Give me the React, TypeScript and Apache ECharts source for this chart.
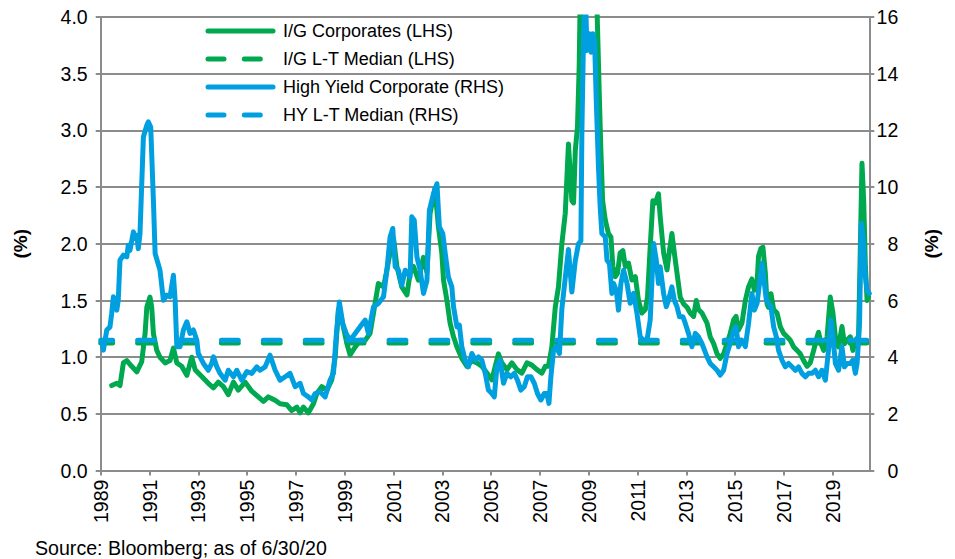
import React, { useEffect, useRef } from "react";
import * as echarts from "echarts";

// Tick labels
const xTickYears = [1989, 1991, 1993, 1995, 1997, 1999, 2001, 2003, 2005, 2007, 2009, 2011, 2013, 2015, 2017, 2019];

// Series names (legend order)
const IG_NAME = "I/G Corporates (LHS)";
const IG_MED_NAME = "I/G L-T Median (LHS)";
const HY_NAME = "High Yield Corporate (RHS)";
const HY_MED_NAME = "HY L-T Median (RHS)";
const legendNames = [IG_NAME, IG_MED_NAME, HY_NAME, HY_MED_NAME];

// Long-term medians
const igMedian = 1.125;
const hyMedian = 4.6;
const medianSpan = [1989, 2020.5];

// I/G corporate spread (%), [year, value]
const igPoints: [number, number][] = [
  [1989.45, 0.75], [1989.66, 0.77], [1989.79, 0.75], [1989.93, 0.95], [1990.07, 0.97],
  [1990.27, 0.92], [1990.48, 0.87], [1990.68, 0.96], [1990.82, 1.21], [1990.89, 1.44],
  [1991.02, 1.53], [1991.09, 1.44], [1991.16, 1.21], [1991.30, 1.06], [1991.43, 1.0],
  [1991.64, 0.95], [1991.84, 0.97], [1991.98, 1.08], [1992.12, 0.95], [1992.32, 0.92],
  [1992.53, 0.84], [1992.73, 1.0], [1992.87, 0.89], [1993.14, 0.83], [1993.41, 0.77],
  [1993.62, 0.73], [1993.82, 0.78], [1994.03, 0.74], [1994.23, 0.67], [1994.44, 0.78],
  [1994.64, 0.71], [1994.92, 0.78], [1995.19, 0.70], [1995.46, 0.65], [1995.67, 0.61],
  [1995.87, 0.65], [1996.15, 0.62], [1996.35, 0.59], [1996.63, 0.58], [1996.83, 0.53],
  [1997.04, 0.56], [1997.17, 0.51], [1997.31, 0.56], [1997.51, 0.51], [1997.72, 0.59],
  [1997.86, 0.68], [1998.06, 0.74], [1998.27, 0.71], [1998.47, 0.80], [1998.61, 1.0],
  [1998.74, 1.42], [1998.88, 1.33], [1999.09, 1.12], [1999.22, 1.02], [1999.43, 1.09],
  [1999.63, 1.15], [1999.84, 1.15], [2000.04, 1.21], [2000.18, 1.39], [2000.38, 1.65],
  [2000.59, 1.62], [2000.73, 1.77], [2000.86, 1.92], [2001.0, 2.05], [2001.14, 1.80],
  [2001.34, 1.62], [2001.55, 1.55], [2001.68, 1.74], [2001.82, 1.80], [2002.02, 1.68],
  [2002.23, 1.88], [2002.37, 1.75], [2002.5, 2.27], [2002.7, 2.49], [2002.84, 2.15],
  [2002.98, 1.92], [2003.05, 1.68], [2003.19, 1.50], [2003.32, 1.30], [2003.46, 1.18],
  [2003.6, 1.09], [2003.8, 0.99], [2004.01, 0.92], [2004.21, 0.97], [2004.42, 0.95],
  [2004.62, 0.92], [2004.83, 0.86], [2005.03, 0.80], [2005.17, 0.92], [2005.3, 1.03],
  [2005.44, 0.95], [2005.65, 0.89], [2005.85, 0.95], [2006.06, 0.89], [2006.26, 0.86],
  [2006.47, 0.95], [2006.67, 0.93], [2006.88, 0.89], [2007.08, 0.86], [2007.22, 0.92],
  [2007.35, 0.92], [2007.49, 1.09], [2007.63, 1.44], [2007.76, 1.62], [2007.9, 2.0],
  [2008.04, 2.27], [2008.17, 2.88], [2008.31, 2.38], [2008.38, 2.36], [2008.45, 2.82],
  [2008.54, 3.03], [2008.61, 3.56], [2008.68, 4.6], [2008.8, 5.6], [2008.95, 6.0],
  [2009.1, 5.3], [2009.3, 4.4], [2009.44, 3.27], [2009.5, 2.82], [2009.57, 2.38],
  [2009.68, 2.21], [2009.81, 2.09], [2009.91, 2.06], [2009.99, 1.80], [2010.09, 1.71],
  [2010.18, 1.74], [2010.29, 1.92], [2010.4, 1.94], [2010.5, 1.80], [2010.63, 1.83],
  [2010.77, 1.68], [2010.91, 1.71], [2011.04, 1.50], [2011.18, 1.39], [2011.32, 1.42],
  [2011.41, 1.53], [2011.52, 1.97], [2011.63, 2.38], [2011.73, 2.36], [2011.86, 2.44],
  [2011.93, 2.24], [2012.07, 1.92], [2012.21, 1.77], [2012.31, 1.94], [2012.41, 2.09],
  [2012.51, 1.92], [2012.62, 1.74], [2012.75, 1.53], [2012.89, 1.47], [2013.03, 1.44],
  [2013.16, 1.39], [2013.3, 1.36], [2013.41, 1.50], [2013.5, 1.42], [2013.64, 1.39],
  [2013.85, 1.30], [2013.98, 1.18], [2014.12, 1.12], [2014.26, 1.03], [2014.39, 0.99],
  [2014.53, 1.03], [2014.67, 1.12], [2014.8, 1.21], [2014.94, 1.33], [2015.04, 1.36],
  [2015.14, 1.24], [2015.28, 1.30], [2015.42, 1.50], [2015.55, 1.62], [2015.69, 1.69],
  [2015.79, 1.59], [2015.9, 1.65], [2015.96, 1.89], [2016.06, 1.96], [2016.14, 1.97],
  [2016.24, 1.74], [2016.31, 1.47], [2016.37, 1.44], [2016.47, 1.56], [2016.58, 1.42],
  [2016.72, 1.39], [2016.85, 1.27], [2016.99, 1.21], [2017.13, 1.18], [2017.26, 1.15],
  [2017.4, 1.09], [2017.54, 1.06], [2017.67, 1.03], [2017.81, 0.97], [2017.95, 0.92],
  [2018.08, 0.95], [2018.22, 1.06], [2018.36, 1.18], [2018.42, 1.22], [2018.52, 1.12],
  [2018.63, 1.06], [2018.77, 1.18], [2018.9, 1.53], [2019.01, 1.39], [2019.11, 1.18],
  [2019.24, 1.09], [2019.38, 1.27], [2019.48, 1.12], [2019.59, 1.15], [2019.72, 1.18],
  [2019.83, 1.06], [2019.93, 1.15], [2020.06, 1.18], [2020.13, 1.94], [2020.2, 2.71],
  [2020.27, 2.38], [2020.34, 1.80], [2020.41, 1.50], [2020.47, 1.53],
];

// High yield corporate spread (%), [year, value]
const hyPoints: [number, number][] = [
  [1989.04, 4.6], [1989.11, 4.25], [1989.25, 4.96], [1989.38, 5.07], [1989.45, 5.54],
  [1989.52, 6.13], [1989.66, 5.66], [1989.72, 6.01], [1989.79, 7.42], [1989.93, 7.6],
  [1990.07, 7.54], [1990.13, 7.95], [1990.2, 7.77], [1990.34, 8.42], [1990.41, 8.19],
  [1990.48, 8.3], [1990.54, 7.83], [1990.61, 8.36], [1990.75, 11.77], [1990.89, 12.18],
  [1990.95, 12.3], [1991.05, 12.12], [1991.16, 9.54], [1991.23, 7.66], [1991.43, 7.07],
  [1991.57, 6.01], [1991.71, 6.19], [1991.84, 6.13], [1991.98, 6.89], [1992.05, 6.01],
  [1992.12, 4.37], [1992.25, 4.37], [1992.39, 4.96], [1992.53, 5.25], [1992.66, 4.84],
  [1992.8, 4.96], [1992.94, 4.6], [1993.0, 4.13], [1993.21, 3.78], [1993.41, 3.54],
  [1993.55, 3.78], [1993.62, 4.01], [1993.76, 3.66], [1993.89, 3.43], [1994.1, 3.19],
  [1994.23, 3.54], [1994.44, 3.31], [1994.58, 3.54], [1994.78, 3.19], [1994.99, 3.49],
  [1995.19, 3.43], [1995.4, 3.66], [1995.53, 3.54], [1995.74, 3.66], [1995.94, 4.07],
  [1996.15, 3.54], [1996.35, 3.19], [1996.56, 3.31], [1996.76, 3.43], [1996.97, 2.96],
  [1997.17, 3.08], [1997.31, 2.72], [1997.51, 2.6], [1997.65, 2.49], [1997.79, 2.72],
  [1997.99, 2.78], [1998.2, 2.6], [1998.4, 3.19], [1998.54, 3.43], [1998.65, 4.72],
  [1998.78, 5.95], [1998.92, 5.19], [1999.06, 4.84], [1999.22, 4.6], [1999.43, 4.84],
  [1999.63, 5.07], [1999.84, 5.31], [1999.97, 4.84], [2000.18, 5.78], [2000.38, 5.9],
  [2000.59, 6.13], [2000.73, 7.07], [2000.86, 8.24], [2000.97, 8.54], [2001.07, 7.19],
  [2001.2, 7.07], [2001.34, 6.54], [2001.48, 7.07], [2001.68, 6.83], [2001.75, 8.95],
  [2001.85, 8.83], [2001.96, 7.54], [2002.09, 7.07], [2002.23, 6.25], [2002.37, 6.7],
  [2002.47, 9.18], [2002.64, 9.77], [2002.78, 10.12], [2002.88, 8.6], [2003.02, 8.36],
  [2003.12, 7.66], [2003.25, 6.83], [2003.39, 6.48], [2003.46, 5.78], [2003.6, 5.07],
  [2003.7, 5.13], [2003.8, 4.37], [2003.94, 3.9], [2004.07, 3.66], [2004.21, 4.13],
  [2004.35, 3.9], [2004.48, 4.01], [2004.62, 3.9], [2004.76, 3.43], [2004.89, 2.84],
  [2005.03, 2.72], [2005.13, 2.6], [2005.24, 3.66], [2005.37, 3.9], [2005.51, 3.08],
  [2005.65, 3.43], [2005.81, 3.31], [2005.95, 3.43], [2006.08, 3.19], [2006.22, 2.84],
  [2006.36, 2.96], [2006.49, 3.31], [2006.63, 3.31], [2006.77, 3.08], [2006.9, 2.72],
  [2007.04, 2.49], [2007.18, 2.72], [2007.29, 2.72], [2007.37, 2.37], [2007.45, 3.31],
  [2007.56, 4.25], [2007.67, 4.37], [2007.8, 4.13], [2007.9, 5.7], [2008.04, 6.8],
  [2008.17, 7.8], [2008.31, 6.3], [2008.45, 7.4], [2008.58, 8.0], [2008.68, 8.1],
  [2008.72, 11.89], [2008.79, 15.4], [2008.86, 17.0], [2008.93, 14.82], [2009.03, 15.41],
  [2009.1, 14.76], [2009.17, 15.41], [2009.24, 15.17], [2009.31, 13.06], [2009.4, 10.71],
  [2009.47, 9.3], [2009.54, 8.36], [2009.68, 8.24], [2009.75, 7.42], [2009.85, 7.31],
  [2009.95, 6.25], [2010.02, 6.6], [2010.13, 6.36], [2010.22, 5.66], [2010.32, 6.6],
  [2010.43, 7.07], [2010.57, 6.6], [2010.7, 5.9], [2010.84, 6.25], [2010.98, 5.54],
  [2011.11, 4.72], [2011.25, 4.6], [2011.39, 4.6], [2011.52, 5.31], [2011.66, 8.01],
  [2011.77, 7.42], [2011.86, 6.6], [2011.93, 7.19], [2012.07, 6.25], [2012.18, 5.78],
  [2012.27, 6.01], [2012.41, 6.48], [2012.51, 6.01], [2012.62, 5.78], [2012.72, 5.43],
  [2012.86, 5.43], [2012.96, 5.19], [2013.09, 4.84], [2013.23, 4.37], [2013.37, 4.84],
  [2013.5, 4.72], [2013.64, 4.49], [2013.85, 4.01], [2013.98, 3.78], [2014.12, 3.66],
  [2014.26, 3.54], [2014.39, 3.37], [2014.53, 3.54], [2014.67, 4.13], [2014.8, 4.49],
  [2014.94, 4.96], [2015.04, 5.07], [2015.14, 4.37], [2015.28, 4.6], [2015.42, 4.37],
  [2015.55, 5.19], [2015.69, 6.25], [2015.79, 5.66], [2015.9, 5.9], [2016.0, 6.6],
  [2016.1, 7.31], [2016.2, 6.6], [2016.28, 6.01], [2016.37, 5.9], [2016.47, 5.78],
  [2016.58, 5.07], [2016.69, 4.72], [2016.78, 4.25], [2016.92, 3.9], [2017.06, 3.66],
  [2017.19, 3.78], [2017.33, 3.66], [2017.47, 3.54], [2017.6, 3.66], [2017.74, 3.43],
  [2017.88, 3.31], [2018.01, 3.43], [2018.15, 3.43], [2018.29, 3.54], [2018.42, 3.31],
  [2018.56, 3.54], [2018.7, 3.19], [2018.83, 4.25], [2018.93, 5.31], [2019.01, 4.72],
  [2019.11, 3.78], [2019.24, 3.54], [2019.38, 4.37], [2019.48, 3.66], [2019.59, 3.78],
  [2019.72, 3.78], [2019.83, 3.9], [2019.93, 3.43], [2020.0, 3.78], [2020.1, 5.19],
  [2020.17, 8.72], [2020.24, 8.24], [2020.34, 6.83], [2020.41, 6.36], [2020.5, 6.25],
];

const GREEN = "#00A84F";
const BLUE = "#00A0E0";
const AXIS_GRAY = "#8c8c8c";
const FONT = '"Liberation Sans", Arial, Helvetica, sans-serif';
const DASH = [16.9, 25];
const LEGEND_DASH = [16, 20.3];

export default function App() {
  const ref = useRef<HTMLDivElement>(null);

  useEffect(() => {
    if (!ref.current) return;
    const chart = echarts.init(ref.current, undefined, { renderer: "svg" });

    const medianLine = (v: number) => medianSpan.map((x) => [x, v]);

    const legendColors = [GREEN, GREEN, BLUE, BLUE];
    const legendDashed = [false, true, false, true];
    const legendGraphics: any[] = [];
    legendNames.forEach((name, i) => {
      const y = 31 + 28 * i;
      legendGraphics.push({
        type: "line",
        silent: true,
        shape: { x1: 208, y1: y, x2: 273, y2: y },
        style: {
          stroke: legendColors[i],
          lineWidth: 5,
          lineCap: "round",
          lineDash: legendDashed[i] ? LEGEND_DASH : null,
        },
      });
      legendGraphics.push({
        type: "text",
        silent: true,
        x: 283,
        y: y,
        style: {
          text: name,
          font: `18px ${FONT}`,
          fill: "#000",
          verticalAlign: "middle",
          align: "left",
        },
      });
    });

    const option: any = {
      animation: false,
      backgroundColor: "#ffffff",
      textStyle: { fontFamily: FONT },
      grid: { left: 100.7, right: 85.7, top: 17, bottom: 88.4, containLabel: false },
      xAxis: {
        type: "value",
        min: 1989,
        max: 2020.5,
        splitLine: { show: false },
        axisLine: { show: true, lineStyle: { color: AXIS_GRAY, width: 2 } },
        axisTick: {
          show: true,
          customValues: xTickYears,
          length: 5,
          lineStyle: { color: AXIS_GRAY, width: 2 },
        },
        axisLabel: {
          customValues: xTickYears,
          rotate: 90,
          margin: 9,
          fontSize: 19.5,
          color: "#000",
          fontFamily: FONT,
          formatter: (v: number) => String(Math.round(v)),
        },
      },
      yAxis: [
        {
          type: "value",
          min: 0,
          max: 4,
          interval: 0.5,
          position: "left",
          name: "(%)",
          nameLocation: "middle",
          nameRotate: 90,
          nameGap: 71,
          nameTextStyle: { fontFamily: FONT, fontSize: 19, fontWeight: "bold", color: "#000" },
          axisLine: { show: true, lineStyle: { color: AXIS_GRAY, width: 2 } },
          axisTick: { show: true, length: 5, lineStyle: { color: AXIS_GRAY, width: 2 } },
          splitLine: { show: true, lineStyle: { color: AXIS_GRAY, width: 2 } },
          axisLabel: {
            margin: 13,
            fontSize: 19.5,
            color: "#000",
            fontFamily: FONT,
            formatter: (v: number) => v.toFixed(1),
          },
        },
        {
          type: "value",
          min: 0,
          max: 16,
          interval: 2,
          position: "right",
          name: "(%)",
          nameLocation: "middle",
          nameRotate: 90,
          nameGap: 53,
          nameTextStyle: { fontFamily: FONT, fontSize: 19, fontWeight: "bold", color: "#000" },
          axisLine: { show: true, lineStyle: { color: AXIS_GRAY, width: 2 } },
          axisTick: { show: true, length: 5, lineStyle: { color: AXIS_GRAY, width: 2 } },
          splitLine: { show: false },
          axisLabel: {
            margin: 29,
            align: "right",
            fontSize: 19.5,
            color: "#000",
            fontFamily: FONT,
          },
        },
      ],
      graphic: [
        ...legendGraphics,
        {
          type: "text",
          silent: true,
          x: 35,
          y: 548,
          style: {
            text: "Source: Bloomberg; as of 6/30/20",
            font: `19.6px ${FONT}`,
            fill: "#000",
            verticalAlign: "middle",
          },
        },
      ],
      series: [
        {
          name: IG_NAME,
          type: "line",
          yAxisIndex: 0,
          data: igPoints,
          symbol: "none",
          showSymbol: false,
          color: GREEN,
          lineStyle: { color: GREEN, width: 5, join: "round", cap: "round" },
        },
        {
          name: IG_MED_NAME,
          type: "line",
          yAxisIndex: 0,
          data: medianLine(igMedian),
          symbol: "none",
          showSymbol: false,
          color: GREEN,
          lineStyle: { color: GREEN, width: 5, type: DASH, dashOffset: 5, cap: "round" },
        },
        {
          name: HY_NAME,
          type: "line",
          yAxisIndex: 1,
          data: hyPoints,
          symbol: "none",
          showSymbol: false,
          color: BLUE,
          lineStyle: { color: BLUE, width: 5, join: "round", cap: "round" },
        },
        {
          name: HY_MED_NAME,
          type: "line",
          yAxisIndex: 1,
          data: medianLine(hyMedian),
          symbol: "none",
          showSymbol: false,
          color: BLUE,
          lineStyle: { color: BLUE, width: 5, type: DASH, dashOffset: 5, cap: "round" },
        },
      ],
    };

    chart.setOption(option);
    return () => chart.dispose();
  }, []);

  return (
    <div
      ref={ref}
      style={{ position: "absolute", left: 0, top: 0, width: 955, height: 559 }}
    />
  );
}
